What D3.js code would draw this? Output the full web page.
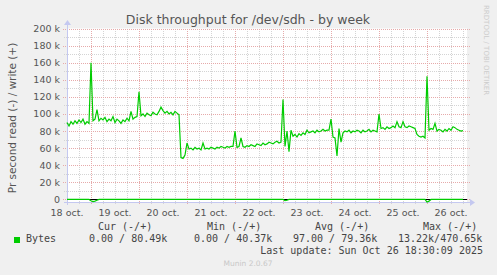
<!DOCTYPE html>
<html>
<head>
<meta charset="utf-8">
<script src="https://cdn.jsdelivr.net/npm/d3@7"></script>
<style>
  body { margin: 0; background: #f0f0f0; }
  svg { display: block; }
  text { font-family: 'DejaVu Sans', sans-serif; fill: #555; }
  .mono { font-family: 'DejaVu Sans Mono', monospace; font-size: 10px; fill: #444; }
</style>
</head>
<body>
<script>
// hourly samples starting 18 oct. 12:00, in k bytes/s
let writeK = [
  90, 86, 91, 88, 92, 89, 93, 90, 94, 88, 91, 89,
  160, 92, 94, 105, 92, 95, 93, 96, 91, 94, 92, 97, 90, 94, 92, 89, 93, 91, 95, 92, 103, 94, 96, 97,
  126, 98, 100, 97, 101, 99, 98, 102, 100, 99, 103, 108,
  104, 101, 103, 100, 102, 99, 103, 101, 99, 49, 48, 52,
  66, 59, 60, 58, 61, 59, 60, 58, 66, 59, 60, 59, 61, 60, 59, 61, 60, 62, 61, 60, 62, 61, 62, 62,
  80, 61, 62, 72, 62, 61, 63, 62, 64, 63, 62, 65, 64, 63, 66, 64, 65, 67, 66, 65, 67, 68, 66, 67,
  117, 62, 80, 56, 81, 74, 76, 73, 77, 75, 78, 76, 81, 78, 79, 80, 78, 81, 79, 80, 82, 80, 81, 81,
  94, 73, 72, 51, 83, 67, 78, 80, 79, 81, 78, 80, 79, 81, 80, 78, 81, 79, 80, 82, 79, 81, 80, 79,
  100, 83, 84, 82, 85, 83, 84, 86, 84, 91, 85, 84, 91, 85, 84, 86, 85, 84, 83,
  76, 74, 73, 74, 72, 144, 81, 83, 82, 89, 80, 82, 81, 79, 82, 80, 83, 81, 85, 84, 82, 81, 80, 80.5
]
let readK = writeK.map(() => 0)
readK[12] = 1.5; readK[13] = 2.5; readK[14] = 2; readK[15] = 1
readK[109] = 1.5; readK[110] = 1
readK[180] = 3; readK[181] = 2

let yTicks = [0, 20000, 40000, 60000, 80000, 100000, 120000, 140000, 160000, 180000, 200000]
let dayLabels = ['18 oct.', '19 oct.', '20 oct.', '21 oct.', '22 oct.', '23 oct.', '24 oct.', '25 oct.', '26 oct.']
let legendHead = ['Cur (-/+)', 'Min (-/+)', 'Avg (-/+)', 'Max (-/+)']
let legendVals = ['0.00 / 80.49k', '0.00 / 40.37k', '97.00 / 79.36k', '13.22k/470.65k']

let t0 = new Date(2025, 9, 18, 12)
let t1 = new Date(2025, 9, 26, 20)
let hour = (h) => new Date(t0.getTime() + h * 3600e3)

let W = 497, H = 275
let svg = d3.select('body').append('svg').attr('width', W).attr('height', H)

let x = d3.scaleTime().domain([t0, t1]).range([67, 467])
let y = d3.scaleLinear().domain([-3000, 200000]).range([202, 28.5])

svg.append('rect')
  .attr('x', 67).attr('y', 28.5)
  .attr('width', 400).attr('height', 173.5)
  .attr('fill', 'white')

let grid = svg.append('g').attr('shape-rendering', 'crispEdges')

// minor grid
d3.range(10000, 200001, 20000).forEach((v) => {
  grid.append('line')
    .attr('x1', 64).attr('x2', 470)
    .attr('y1', Math.round(y(v)) + 0.5).attr('y2', Math.round(y(v)) + 0.5)
    .attr('stroke', '#d4d4d4').attr('stroke-dasharray', '1,1')
})
d3.timeHour.every(6).range(t0, t1).forEach((t) => {
  if (t.getHours() === 0) return
  grid.append('line')
    .attr('x1', Math.round(x(t)) + 0.5).attr('x2', Math.round(x(t)) + 0.5)
    .attr('y1', 28.5).attr('y2', 204)
    .attr('stroke', '#d4d4d4').attr('stroke-dasharray', '1,1')
})
// major grid
yTicks.forEach((v) => {
  grid.append('line')
    .attr('x1', 63).attr('x2', 470)
    .attr('y1', Math.round(y(v)) + 0.5).attr('y2', Math.round(y(v)) + 0.5)
    .attr('stroke', '#e6aaaa').attr('stroke-dasharray', '1,1')
})
d3.timeDay.range(t0, t1).forEach((t) => {
  grid.append('line')
    .attr('x1', Math.round(x(t)) + 0.5).attr('x2', Math.round(x(t)) + 0.5)
    .attr('y1', 28.5).attr('y2', 205)
    .attr('stroke', '#e6aaaa').attr('stroke-dasharray', '1,1')
})

// y labels
svg.append('g').selectAll('text')
  .data(yTicks)
  .enter().append('text')
    .attr('x', 60)
    .attr('y', (d) => y(d) + 3.5)
    .attr('text-anchor', 'end')
    .attr('font-size', 9.5)
    .text((d) => d === 0 ? '0' : (d / 1000) + ' k')

// x labels at noon
svg.append('g').selectAll('text')
  .data(dayLabels)
  .enter().append('text')
    .attr('x', (d, i) => x(d3.timeHour.offset(t0, i * 24)))
    .attr('y', 216)
    .attr('text-anchor', 'middle')
    .attr('font-size', 9.5)
    .text((d) => d)

// zero line
svg.append('line')
  .attr('x1', 67).attr('x2', 467)
  .attr('y1', Math.round(y(0)) + 0.5).attr('y2', Math.round(y(0)) + 0.5)
  .attr('stroke', 'black').attr('shape-rendering', 'crispEdges')

// axes with arrows
let axisColor = '#c4c8f0'
svg.append('line')
  .attr('x1', 64).attr('x2', 470).attr('y1', 202.5).attr('y2', 202.5)
  .attr('stroke', axisColor).attr('shape-rendering', 'crispEdges')
svg.append('path')
  .attr('d', 'M470,199 L475,202.5 L470,206 Z').attr('fill', axisColor)
svg.append('line')
  .attr('x1', 67.5).attr('x2', 67.5).attr('y1', 205).attr('y2', 25)
  .attr('stroke', axisColor).attr('shape-rendering', 'crispEdges')
svg.append('path')
  .attr('d', 'M64,25 L67.5,20 L71,25 Z').attr('fill', axisColor)

let line = d3.line()
  .x((d, i) => x(hour(i)))
  .y((d) => y(d * 1000))

svg.append('path')
  .attr('d', line(writeK))
  .attr('fill', 'none')
  .attr('stroke', '#00cc00')
  .attr('stroke-width', 1.2)

svg.append('path')
  .attr('d', line(readK.map((d) => -d)))
  .attr('fill', 'none')
  .attr('stroke', '#00cc00')
  .attr('stroke-width', 1.2)

// title and labels
svg.append('text')
  .attr('x', 248).attr('y', 24)
  .attr('text-anchor', 'middle')
  .attr('font-size', 12.5)
  .text('Disk throughput for /dev/sdh - by week')

svg.append('text')
  .attr('transform', 'translate(16,118) rotate(-90)')
  .attr('text-anchor', 'middle')
  .attr('font-size', 10.5)
  .text('Pr second read (-) / write (+)')

svg.append('text')
  .attr('transform', 'translate(484,5) rotate(90)')
  .attr('font-size', 7)
  .style('fill', '#cccccc')
  .text('RRDTOOL / TOBI OETIKER')

// legend
let headX = [98, 207, 315, 423]
let valX = [89, 194, 293, 398]
svg.append('g').selectAll('text')
  .data(legendHead)
  .enter().append('text')
    .attr('class', 'mono')
    .attr('x', (d, i) => headX[i])
    .attr('y', 230)
    .text((d) => d)

svg.append('rect')
  .attr('x', 14).attr('y', 237)
  .attr('width', 6).attr('height', 6)
  .attr('fill', '#00cc00')

svg.append('text')
  .attr('class', 'mono')
  .attr('x', 26).attr('y', 242)
  .text('Bytes')

svg.append('g').selectAll('text')
  .data(legendVals)
  .enter().append('text')
    .attr('class', 'mono')
    .attr('x', (d, i) => valX[i])
    .attr('y', 242)
    .text((d) => d)

svg.append('text')
  .attr('class', 'mono')
  .attr('x', 483).attr('y', 254)
  .attr('text-anchor', 'end')
  .text('Last update: Sun Oct 26 18:30:09 2025')

svg.append('text')
  .attr('x', 248).attr('y', 266)
  .attr('text-anchor', 'middle')
  .attr('font-size', 7.5)
  .style('fill', '#c8c8c8')
  .text('Munin 2.0.67')
</script>
</body>
</html>
